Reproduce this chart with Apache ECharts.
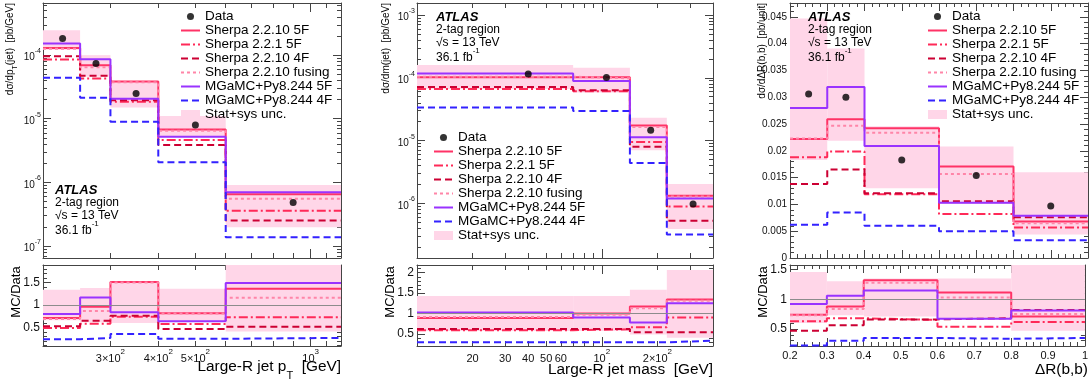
<!DOCTYPE html>
<html>
<head>
<meta charset="utf-8">
<title>ATLAS 2-tag region</title>
<script src="https://cdn.jsdelivr.net/npm/echarts@6/dist/echarts.min.js"></script>
<style>
  html, body { margin: 0; padding: 0; background: #fff; }
  #main { width: 1091px; height: 387px; }
</style>
</head>
<body>
<div id="main"></div>
<script>
// ---------- samples ----------
const sampleNames = ['Sherpa 2.2.10 5F', 'Sherpa 2.2.1 5F', 'Sherpa 2.2.10 4F', 'Sherpa 2.2.10 fusing', 'MGaMC+Py8.244 5F', 'MGaMC+Py8.244 4F'];
const sampleColors = ['#ff3366', '#ff2a58', '#cc0033', '#ff85a8', '#9933ff', '#3322ff'];
const sampleDash = ['solid', [9, 3, 2, 3], [7, 4], [3, 3], 'solid', [7, 4]];

// ---------- large-R jet pT ----------
const ptEdges = [200, 250, 300, 400, 600, 1200];
const ptCenters = [225, 275, 350, 500, 900];
const ptData = [1.83e-4, 7.4e-5, 2.5e-5, 8.0e-6, 4.8e-7];
const ptUncLo = [1.21e-4, 4.6e-5, 1.5e-5, 5.1e-6, 1.97e-7];
const ptUncHi = [2.47e-4, 1.0e-4, 3.85e-5, 1.1e-5, 9.1e-7];
const ptSherpa2210_5F = [1.30e-4, 6.96e-5, 3.85e-5, 6.8e-6, 6.5e-7];
const ptSherpa221_5F = [8.5e-5, 4.3e-5, 1.85e-5, 4.64e-6, 3.56e-7];
const ptSherpa2210_4F = [9.6e-5, 4.75e-5, 1.95e-5, 3.85e-6, 2.5e-7];
const ptSherpaFusing = [1.26e-4, 6.45e-5, 3.75e-5, 6.5e-6, 5.5e-7];
const ptMG5F = [1.52e-4, 8.65e-5, 2.06e-5, 5.2e-6, 7.0e-7];
const ptMG4F = [4.4e-5, 2.14e-5, 8.97e-6, 2.06e-6, 1.37e-7];
const ptRatioLo = [0.66, 0.62, 0.6, 0.64, 0.41];
const ptRatioHi = [1.34, 1.38, 1.52, 1.36, 1.95];
const ptR_Sherpa2210_5F = [0.71, 0.96, 1.51, 0.82, 1.36];
const ptR_Sherpa221_5F = [0.49, 0.585, 0.74, 0.58, 0.73];
const ptR_Sherpa2210_4F = [0.53, 0.65, 0.76, 0.47, 0.52];
const ptR_SherpaFusing = [0.69, 0.87, 1.50, 0.81, 1.16];
const ptR_MG5F = [0.80, 1.17, 0.84, 0.64, 1.49];
const ptR_MG4F = [0.24, 0.27, 0.355, 0.25, 0.27];

// ---------- large-R jet mass ----------
const mEdges = [10, 70, 142, 225, 400];
const mCenters = [40, 106, 184, 312];
const mData = [1.15e-4, 1.01e-4, 1.46e-5, 9.8e-7];
const mUncLo = [6.6e-5, 5.8e-5, 7.0e-6, 3.9e-7];
const mUncHi = [1.6e-4, 1.44e-4, 2.3e-5, 2.03e-6];
const mSherpa2210_5F = [1.02e-4, 1.02e-4, 1.73e-5, 1.32e-6];
const mSherpa221_5F = [6.6e-5, 6.1e-5, 9.5e-6, 8.9e-7];
const mSherpa2210_4F = [7.1e-5, 6.3e-5, 8.0e-6, 5.3e-7];
const mSherpaFusing = [1.04e-4, 9.8e-5, 1.65e-5, 1.29e-6];
const mMG5F = [1.17e-4, 8.9e-5, 1.13e-5, 1.2e-6];
const mMG4F = [3.36e-5, 2.95e-5, 4.4e-6, 3.2e-7];
const mRatioLo = [0.57, 0.57, 0.48, 0.4];
const mRatioHi = [1.43, 1.43, 1.58, 2.07];
const mR_Sherpa2210_5F = [0.885, 1.0, 1.17, 1.34];
const mR_Sherpa221_5F = [0.59, 0.61, 0.66, 0.90];
const mR_Sherpa2210_4F = [0.62, 0.62, 0.54, 0.54];
const mR_SherpaFusing = [0.91, 0.97, 1.13, 1.31];
const mR_MG5F = [1.02, 0.90, 0.78, 1.25];
const mR_MG4F = [0.29, 0.29, 0.29, 0.33];

// ---------- delta R(b,b) ----------
const drEdges = [0.2, 0.3, 0.4, 0.6, 0.8, 1.0];
const drCenters = [0.25, 0.35, 0.5, 0.7, 0.9];
const drData = [0.0306, 0.0300, 0.0183, 0.0154, 0.0097];
const drUncLo = [0.0183, 0.0219, 0.0130, 0.0101, 0.0044];
const drUncHi = [0.0447, 0.0391, 0.0246, 0.0208, 0.0160];
const drSherpa2210_5F = [0.0222, 0.0259, 0.0242, 0.0171, 0.0068];
const drSherpa221_5F = [0.0188, 0.0199, 0.0119, 0.0082, 0.0057];
const drSherpa2210_4F = [0.0138, 0.0165, 0.0121, 0.0106, 0.0076];
const drSherpaFusing = [0.0223, 0.0247, 0.0234, 0.0157, 0.0065];
const drMG5F = [0.0280, 0.0319, 0.0209, 0.0103, 0.0079];
const drMG4F = [0.0062, 0.0085, 0.0060, 0.0050, 0.0033];
const drRatioLo = [0.6, 0.73, 0.71, 0.66, 0.47];
const drRatioHi = [1.46, 1.305, 1.35, 1.35, 1.7];
const drR_Sherpa2210_5F = [0.74, 0.876, 1.32, 1.113, 0.71];
const drR_Sherpa221_5F = [0.63, 0.68, 0.65, 0.537, 0.616];
const drR_Sherpa2210_4F = [0.47, 0.56, 0.66, 0.68, 0.82];
const drR_SherpaFusing = [0.73, 0.836, 1.28, 1.03, 0.75];
const drR_MG5F = [0.92, 1.06, 1.147, 0.67, 0.81];
const drR_MG4F = [0.22, 0.30, 0.345, 0.333, 0.345];

// ---------- style ----------
const FONT = '"Liberation Sans", Arial, Helvetica, sans-serif';
const FRAME = '#444';
const TXT = '#111';
const BAND = '#ffd6e8';

function steps(lo, hi, step) {
  const out = [];
  for (let v = lo; v <= hi + 1e-9; v += step) out.push(+v.toFixed(6));
  return out;
}
function logMinor(e0, e1, min, max) {
  const out = [];
  for (let e = e0; e <= e1; e++) {
    for (let k = 2; k <= 9; k++) {
      const v = +(k * Math.pow(10, e)).toPrecision(4);
      if (v > min && v < max) out.push(v);
    }
  }
  return out;
}
function powLabel(v) {
  const e = Math.floor(Math.log10(v) + 1e-6);
  const m = Math.round(v / Math.pow(10, e));
  return (m === 1 ? '{b|10}' : '{b|' + m + '×10}') + '{s|' + e + '}';
}
function numLabel(v) { return String(+v.toFixed(4)); }
function massLabel(v) { return v < 100 ? '{b|' + v + '}' : powLabel(v); }

function axisRich(fs) {
  return {
    b: { fontSize: fs, fontFamily: FONT, color: TXT, verticalAlign: 'bottom', lineHeight: Math.round(fs * 1.45) },
    s: { fontSize: Math.round(fs * 0.72), fontFamily: FONT, color: TXT, verticalAlign: 'top' }
  };
}

const grids = [
  { left: 43, top: 3, width: 298, height: 255 },
  { left: 43, top: 265, width: 298, height: 81 },
  { left: 417, top: 3, width: 296, height: 255 },
  { left: 417, top: 265, width: 296, height: 81 },
  { left: 790, top: 3, width: 298, height: 255 },
  { left: 790, top: 265, width: 298, height: 81 }
];

const xAxes = [];
const yAxes = [];

// major + minor tick axes on both sides of a frame, all ticks inside
function frame(list, dim, grid, spec) {
  const first = list.length;
  const sides = dim === 'x' ? ['bottom', 'top'] : ['left', 'right'];
  sides.forEach(function (pos, s) {
    [[spec.major, spec.majLen || 8], [spec.minor, spec.minLen || 4]].forEach(function (t, m) {
      const withLabel = s === 0 && m === 0 && spec.labels;
      list.push({
        type: spec.type, gridIndex: grid, position: pos, min: spec.min, max: spec.max,
        logBase: 10, silent: true,
        axisLine: { show: m === 0, onZero: false, lineStyle: { color: FRAME, width: 1 } },
        axisTick: { show: t[0].length > 0, inside: true, length: t[1], customValues: t[0].length ? t[0] : undefined, lineStyle: { color: FRAME, width: 1 } },
        axisLabel: withLabel ? {
          show: true, customValues: spec.labels, formatter: spec.fmt, margin: spec.margin || 3,
          color: TXT, fontFamily: FONT, fontSize: spec.fs, rich: axisRich(spec.fs), hideOverlap: false
        } : { show: false },
        splitLine: { show: false }, minorTick: { show: false }, minorSplitLine: { show: false }
      });
    });
  });
  return first;
}

const ptX = { type: 'log', min: 200, max: 1200, major: [1000], minor: [300, 400, 500, 600, 700, 800, 900, 1100], majLen: 9, minLen: 5 };
const ptYMin = 6.46e-8, ptYMax = 6.6e-4;
const mYMin = 1.35e-7, mYMax = 1.55e-3;
const mX = { type: 'log', min: 10, max: 400, major: [100], minor: [20, 30, 40, 50, 60, 70, 80, 90, 200, 300], majLen: 9, minLen: 5 };
const drX = { type: 'value', min: 0.2, max: 1.0, major: steps(0.2, 1.0, 0.1), minor: steps(0.2, 1.0, 0.02) };

const ax = [];
// grid 0: pT main
ax.push([frame(xAxes, 'x', 0, ptX), frame(yAxes, 'y', 0, {
  type: 'log', min: ptYMin, max: ptYMax, major: [1e-7, 1e-6, 1e-5, 1e-4], minor: logMinor(-8, -4, ptYMin, ptYMax),
  labels: [1e-7, 1e-6, 1e-5, 1e-4], fmt: powLabel, fs: 10, margin: 2
})]);
// grid 1: pT ratio
ax.push([frame(xAxes, 'x', 1, Object.assign({}, ptX, { labels: [300, 400, 500, 1000], fmt: powLabel, fs: 11, margin: 2 })),
  frame(yAxes, 'y', 1, { type: 'value', min: 0.09, max: 1.89, major: [0.5, 1, 1.5], minor: steps(0.1, 1.8, 0.1), labels: [0.5, 1, 1.5], fmt: numLabel, fs: 12, margin: 3 })]);
// grid 2: mass main
ax.push([frame(xAxes, 'x', 2, mX), frame(yAxes, 'y', 2, {
  type: 'log', min: mYMin, max: mYMax, major: [1e-6, 1e-5, 1e-4, 1e-3], minor: logMinor(-7, -3, mYMin, mYMax),
  labels: [1e-6, 1e-5, 1e-4, 1e-3], fmt: powLabel, fs: 10, margin: 2
})]);
// grid 3: mass ratio
ax.push([frame(xAxes, 'x', 3, Object.assign({}, mX, { labels: [20, 30, 40, 50, 60, 100, 200], fmt: massLabel, fs: 11, margin: 2 })),
  frame(yAxes, 'y', 3, { type: 'value', min: 0.2, max: 2.19, major: [0.5, 1, 1.5, 2], minor: steps(0.3, 2.1, 0.1), labels: [0.5, 1, 1.5, 2], fmt: numLabel, fs: 12, margin: 3 })]);
// grid 4: dR main
ax.push([frame(xAxes, 'x', 4, drX), frame(yAxes, 'y', 4, {
  type: 'value', min: 0, max: 0.0476, major: steps(0, 0.045, 0.005), minor: steps(0, 0.047, 0.001),
  labels: steps(0, 0.045, 0.005), fmt: numLabel, fs: 10, margin: 3
})]);
// grid 5: dR ratio
ax.push([frame(xAxes, 'x', 5, Object.assign({}, drX, { labels: steps(0.2, 1.0, 0.1), fmt: numLabel, fs: 11, margin: 4 })),
  frame(yAxes, 'y', 5, { type: 'value', min: 0.21, max: 1.58, major: [0.5, 1, 1.5], minor: steps(0.3, 1.5, 0.1), labels: [0.5, 1, 1.5], fmt: numLabel, fs: 12, margin: 3 })]);

// ---------- series ----------
function histPoints(edges, vals) {
  return edges.map(function (e, i) { return [e, vals[Math.min(i, vals.length - 1)]]; });
}

function bandSeries(g, edges, lo, hi, unity) {
  const s = {
    type: 'custom', name: 'Stat+sys unc.', xAxisIndex: ax[g][0], yAxisIndex: ax[g][1], silent: true, z: 1,
    itemStyle: { color: BAND },
    data: lo.map(function (l, i) { return [edges[i], edges[i + 1], l, hi[i]]; }),
    encode: { x: [0, 1], y: [2, 3] },
    renderItem: function (params, api) {
      const a = api.coord([api.value(0), api.value(3)]);
      const b = api.coord([api.value(1), api.value(2)]);
      const r = echarts.graphic.clipRectByRect(
        { x: a[0], y: a[1], width: b[0] - a[0], height: b[1] - a[1] }, params.coordSys);
      return r ? { type: 'rect', shape: r, style: { fill: BAND } } : null;
    }
  };
  if (unity) {
    s.markLine = {
      silent: true, symbol: 'none', animation: false, label: { show: false },
      lineStyle: { color: '#8c8c8c', width: 1, type: 'solid' }, data: [{ yAxis: 1 }]
    };
  }
  return s;
}

function mcSeries(g, edges, list) {
  return list.map(function (vals, k) {
    return {
      type: 'line', name: sampleNames[k], xAxisIndex: ax[g][0], yAxisIndex: ax[g][1],
      step: 'end', symbol: 'none', silent: true, z: 2,
      itemStyle: { color: sampleColors[k] },
      lineStyle: { color: sampleColors[k], width: 2, type: sampleDash[k] },
      data: histPoints(edges, vals)
    };
  });
}

function dataSeries(g, centers, vals) {
  return {
    type: 'scatter', name: 'Data', xAxisIndex: ax[g][0], yAxisIndex: ax[g][1], z: 5, silent: true,
    symbol: 'circle', symbolSize: 7, itemStyle: { color: '#000' },
    data: centers.map(function (c, i) { return [c, vals[i]]; })
  };
}

const series = [].concat(
  bandSeries(0, ptEdges, ptUncLo, ptUncHi, false),
  mcSeries(0, ptEdges, [ptSherpa2210_5F, ptSherpa221_5F, ptSherpa2210_4F, ptSherpaFusing, ptMG5F, ptMG4F]),
  dataSeries(0, ptCenters, ptData),
  bandSeries(1, ptEdges, ptRatioLo, ptRatioHi, true),
  mcSeries(1, ptEdges, [ptR_Sherpa2210_5F, ptR_Sherpa221_5F, ptR_Sherpa2210_4F, ptR_SherpaFusing, ptR_MG5F, ptR_MG4F]),

  bandSeries(2, mEdges, mUncLo, mUncHi, false),
  mcSeries(2, mEdges, [mSherpa2210_5F, mSherpa221_5F, mSherpa2210_4F, mSherpaFusing, mMG5F, mMG4F]),
  dataSeries(2, mCenters, mData),
  bandSeries(3, mEdges, mRatioLo, mRatioHi, true),
  mcSeries(3, mEdges, [mR_Sherpa2210_5F, mR_Sherpa221_5F, mR_Sherpa2210_4F, mR_SherpaFusing, mR_MG5F, mR_MG4F]),

  bandSeries(4, drEdges, drUncLo, drUncHi, false),
  mcSeries(4, drEdges, [drSherpa2210_5F, drSherpa221_5F, drSherpa2210_4F, drSherpaFusing, drMG5F, drMG4F]),
  dataSeries(4, drCenters, drData),
  bandSeries(5, drEdges, drRatioLo, drRatioHi, true),
  mcSeries(5, drEdges, [drR_Sherpa2210_5F, drR_Sherpa221_5F, drR_Sherpa2210_4F, drR_SherpaFusing, drR_MG5F, drR_MG4F])
);

// ---------- legends ----------
const DATA_ICON = 'path://M0,0M10,10M1.1,5A3.9,3.9,0,1,1,8.9,5A3.9,3.9,0,1,1,1.1,5Z';
function legendAt(left, top) {
  const lineItems = sampleNames.map(function (n) { return { name: n, itemStyle: { opacity: 0 } }; });
  return {
    left: left, top: top, orient: 'vertical', padding: 0, itemGap: 0,
    itemWidth: 19, itemHeight: 9, selectedMode: false, z: 10,
    textStyle: { fontFamily: FONT, fontSize: 13.5, color: '#000', lineHeight: 12.7 },
    data: [{ name: 'Data', icon: DATA_ICON }].concat(lineItems, [{ name: 'Stat+sys unc.', icon: 'rect' }])
  };
}

// ---------- texts ----------
function gText(x, y, text, fs, opt) {
  opt = opt || {};
  const sub = opt.mode === 'sub';
  return {
    type: 'text', x: x, y: y, rotation: opt.rot || 0, silent: true, z: 100,
    style: {
      text: text, fill: '#000', fontFamily: FONT, fontSize: fs,
      fontWeight: opt.weight || 'normal', fontStyle: opt.fstyle || 'normal',
      align: opt.align || 'left', verticalAlign: 'middle',
      rich: {
        b: { fontFamily: FONT, fontSize: fs, fill: '#000', verticalAlign: sub ? 'top' : 'bottom', lineHeight: Math.round(fs * 1.4) },
        s: { fontFamily: FONT, fontSize: Math.round(fs * 0.7), fill: '#000', verticalAlign: sub ? 'bottom' : 'top' }
      }
    }
  };
}
function atlasBlock(x, y) {
  return [
    gText(x, y, 'ATLAS', 13, { weight: 'bold', fstyle: 'italic' }),
    gText(x, y + 13, '2-tag region', 12),
    gText(x, y + 25.5, '√s = 13 TeV', 12),
    gText(x, y + 38, '{b|36.1 fb}{s|-1}', 12)
  ];
}
const ROT = Math.PI / 2;
const graphics = [].concat(
  gText(12, 3, '{b|dσ/dp}{s|T}{b|(jet)  [pb/GeV]}', 10, { rot: ROT, align: 'right', mode: 'sub' }),
  gText(386, 3, 'dσ/dm(jet)  [pb/GeV]', 10, { rot: ROT, align: 'right' }),
  gText(762, 3, 'dσ/dΔR(b,b)  [pb/unit]', 10, { rot: ROT, align: 'right' }),
  gText(16, 292, 'MC/Data', 13, { rot: ROT, align: 'center' }),
  gText(390, 292, 'MC/Data', 13, { rot: ROT, align: 'center' }),
  gText(763, 292, 'MC/Data', 13, { rot: ROT, align: 'center' }),
  gText(341, 370, '{b|Large-R jet p}{s|T}{b|  [GeV]}', 15.4, { align: 'right', mode: 'sub' }),
  gText(713, 370, 'Large-R jet mass  [GeV]', 15.4, { align: 'right' }),
  gText(1088, 370, 'ΔR(b,b)', 15.4, { align: 'right' }),
  atlasBlock(55, 190),
  atlasBlock(436, 17),
  atlasBlock(808, 17)
);

const chart = echarts.init(document.getElementById('main'), null, { renderer: 'canvas' });
chart.setOption({
  animation: false,
  backgroundColor: '#fff',
  textStyle: { fontFamily: FONT },
  grid: grids,
  xAxis: xAxes,
  yAxis: yAxes,
  legend: [legendAt(180, 9.5), legendAt(433, 130.5), legendAt(927, 9.5)],
  graphic: graphics,
  series: series
});
</script>
</body>
</html>
